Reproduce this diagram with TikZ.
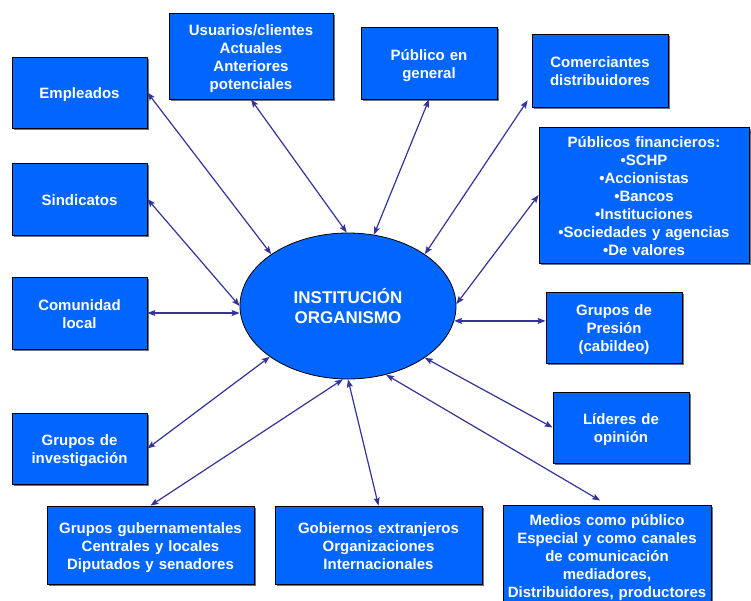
\documentclass[tikz,border=0pt]{standalone}
\usepackage{fontspec}
\setmainfont{Liberation Sans}
\usetikzlibrary{shapes.geometric,arrows.meta,shadows}
\definecolor{boxblue}{RGB}{0,102,255}
\definecolor{arrowc}{RGB}{51,51,153}
\begin{document}
\begin{tikzpicture}[x=1pt,y=-1pt,
  pbox/.style={draw=black, line width=0.8pt, fill=boxblue, text=white, align=center,
    inner sep=0pt, font=\fontsize{15}{18}\selectfont\bfseries,
    execute at begin node={\rule{0pt}{15.2pt}},
    execute at end node={\rule[-3.2pt]{0pt}{3.2pt}},
    drop shadow={shadow xshift=1.5pt, shadow yshift=-1.5pt, fill=black!55, opacity=1}},
  bx/.style 2 args={minimum width=#1, text width=#1, minimum height=#2},
  conn/.style={draw=arrowc, line width=1.2pt,
    {Stealth[length=8pt,width=6pt,inset=1.5pt]}-{Stealth[length=8pt,width=6pt,inset=1.5pt]}}]
\useasboundingbox (0,0) rectangle (751,600);
\clip (0,0) rectangle (751,600);
\fill[white] (0,0) rectangle (751,600);

\node[pbox, bx={135pt}{71pt}] (emp) at (79.5,92.5) {Empleados};
\node[pbox, bx={164pt}{86pt}] (usu) at (251,56) {Usuarios/clientes\\Actuales\\Anteriores\\potenciales};
\node[pbox, bx={136pt}{72pt}] (pub) at (429,63) {Público en\\general};
\node[pbox, bx={136pt}{73pt}] (com) at (600,70.5) {Comerciantes\\distribuidores};
\node[pbox, bx={210pt}{136pt}] (fin) at (644,195) {Públicos financieros:\\•SCHP\\•Accionistas\\•Bancos\\•Instituciones\\•Sociedades y agencias\\•De valores};
\node[pbox, bx={135pt}{72pt}] (sind) at (79.5,199) {Sindicatos};
\node[pbox, bx={135pt}{72pt}] (comu) at (79.5,313) {Comunidad\\local};
\node[pbox, bx={136pt}{71pt}] (pres) at (614,327.5) {Grupos de\\Presión\\(cabildeo)};
\node[pbox, bx={136pt}{71pt}] (lid) at (621,427.5) {Líderes de\\opinión};
\node[pbox, bx={135pt}{71pt}] (inv) at (79.5,448.5) {Grupos de\\investigación};
\node[pbox, bx={207pt}{78pt}] (gub) at (150.5,545) {Grupos gubernamentales\\Centrales y locales\\Diputados y senadores};
\node[pbox, bx={207pt}{78pt}] (gob) at (378.5,545) {Gobiernos extranjeros\\Organizaciones\\Internacionales};
\node[pbox, bx={208pt}{104pt}, execute at end node={\rule[-7.2pt]{0pt}{7.2pt}}] (med) at (607,557) {Medios como público\\Especial y como canales\\de comunicación\\mediadores,\\Distribuidores, productores};

\node[ellipse, draw=black, line width=0.8pt, fill=boxblue, text=white, align=center,
  inner sep=0pt, minimum width=216pt, minimum height=146pt,
  font=\fontsize{17}{20.5}\selectfont\bfseries] (inst) at (348,306) {INSTITUCIÓN\\ORGANISMO};

\draw[conn] (emp.east) -- (inst.146.5);
\draw[conn] (usu.south) -- (inst.91);
\draw[conn] (pub.south) -- (inst.70);
\draw[conn] ([xshift=-4pt,yshift=7pt]com.south west) -- (inst.34);
\draw[conn] (fin.west) -- (inst.1.6);
\draw[conn] (sind.east) -- (inst.west);
\draw[conn] (comu.east) -- (inst.west |- comu.east);
\draw[conn] (pres.west |- inst.-8) -- (inst.-8);
\draw[conn] (lid.west) -- (inst.-34);
\draw[conn, shorten <=8pt] (med.north) -- (inst.-61);
\draw[conn] (gob.north) -- (inst.-90);
\draw[conn] (gub.north) -- (inst.-94);
\draw[conn] (inv.east) -- (inst.213);
\end{tikzpicture}
\end{document}
